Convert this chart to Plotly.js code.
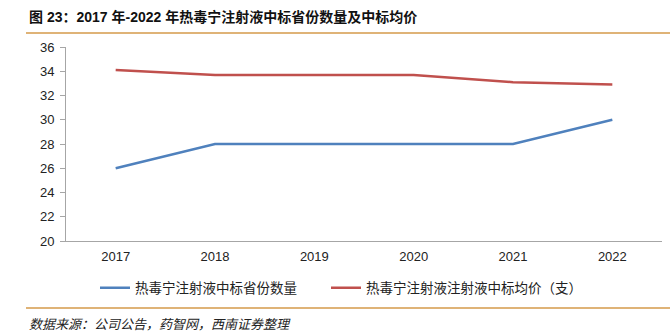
<!DOCTYPE html>
<html>
<head>
<meta charset="utf-8">
<script src="https://cdn.plot.ly/plotly-3.0.1.min.js"></script>
<style>
html,body{margin:0;padding:0;background:#fff;}
#chart{width:670px;height:335px;}
</style>
</head>
<body>
<div id="chart"></div>
<script>
var years = ["2017", "2018", "2019", "2020", "2021", "2022"];
var provinceCount = [26, 28, 28, 28, 28, 30];
var avgPrice = [34.1, 33.7, 33.7, 33.7, 33.1, 32.9];
var seriesNames = ["热毒宁注射液中标省份数量", "热毒宁注射液注射液中标均价（支）"];
var yTicks = [20, 22, 24, 26, 28, 30, 32, 34, 36];
var titleText = "图 23：2017 年-2022 年热毒宁注射液中标省份数量及中标均价";
var sourceText = "数据来源：公司公告，药智网，西南证券整理";

var cjk = "Liberation Sans, Arial, Noto Sans CJK SC, sans-serif";
var legFont = {family: "Noto Sans CJK SC, sans-serif", size: 13.5, color: "#222"};

var traces = [
  {x: years, y: provinceCount, name: seriesNames[0], type: "scatter", mode: "lines",
   line: {color: "#4F81BD", width: 2.5}, legend: "legend"},
  {x: years, y: avgPrice, name: seriesNames[1], type: "scatter", mode: "lines",
   line: {color: "#C0504D", width: 2.5}, legend: "legend2"}
];

var layout = {
  width: 670, height: 335,
  margin: {l: 66, r: 8, t: 47, b: 94},
  paper_bgcolor: "#fff", plot_bgcolor: "#fff",
  showlegend: true,
  legend: {
    orientation: "h", xref: "container", yref: "container",
    x: 95/670, xanchor: "left", y: 1 - 288/335, yanchor: "middle",
    font: legFont, itemwidth: 30, bgcolor: "rgba(0,0,0,0)"
  },
  legend2: {
    orientation: "h", xref: "container", yref: "container",
    x: 326/670, xanchor: "left", y: 1 - 288/335, yanchor: "middle",
    font: legFont, itemwidth: 30, bgcolor: "rgba(0,0,0,0)"
  },
  xaxis: {
    type: "category", range: [-0.5, 5.5],
    showline: true, linecolor: "#A6A6A6", linewidth: 1,
    ticks: "", showgrid: false, zeroline: false,
    ticklabelstandoff: 3,
    tickfont: {family: cjk, size: 13, color: "#222"},
    fixedrange: true
  },
  yaxis: {
    range: [20, 36], tickvals: yTicks, ticktext: yTicks.map(String),
    showline: true, linecolor: "#A6A6A6", linewidth: 1,
    ticks: "outside", ticklen: 5, tickcolor: "#A6A6A6",
    showgrid: false, zeroline: false,
    ticklabelstandoff: 3,
    tickfont: {family: cjk, size: 13, color: "#222"},
    fixedrange: true
  },
  shapes: [
    {type: "line", xref: "paper", yref: "paper",
     x0: (26-66)/596, x1: (670-66)/596, y0: (335-94-33)/194, y1: (335-94-33)/194,
     line: {color: "#D49A4A", width: 1.5}},
    {type: "line", xref: "paper", yref: "paper",
     x0: (26-66)/596, x1: (670-66)/596, y0: (335-94-308)/194, y1: (335-94-308)/194,
     line: {color: "#D49A4A", width: 1.5}}
  ],
  annotations: [
    {text: "<b>" + titleText + "</b>", xref: "paper", yref: "paper",
     x: (27-66)/596, xanchor: "left", y: (335-94-17)/194, yanchor: "middle",
     showarrow: false, font: {family: cjk, size: 14, color: "#111"}},
    {text: "<i>" + sourceText + "</i>", xref: "paper", yref: "paper",
     x: (27-66)/596, xanchor: "left", y: (335-94-323)/194, yanchor: "middle",
     showarrow: false, font: {family: "Noto Sans CJK SC, sans-serif", size: 13, color: "#222"}}
  ]
};

Plotly.newPlot("chart", traces, layout, {displayModeBar: false, staticPlot: true});
</script>
</body>
</html>
